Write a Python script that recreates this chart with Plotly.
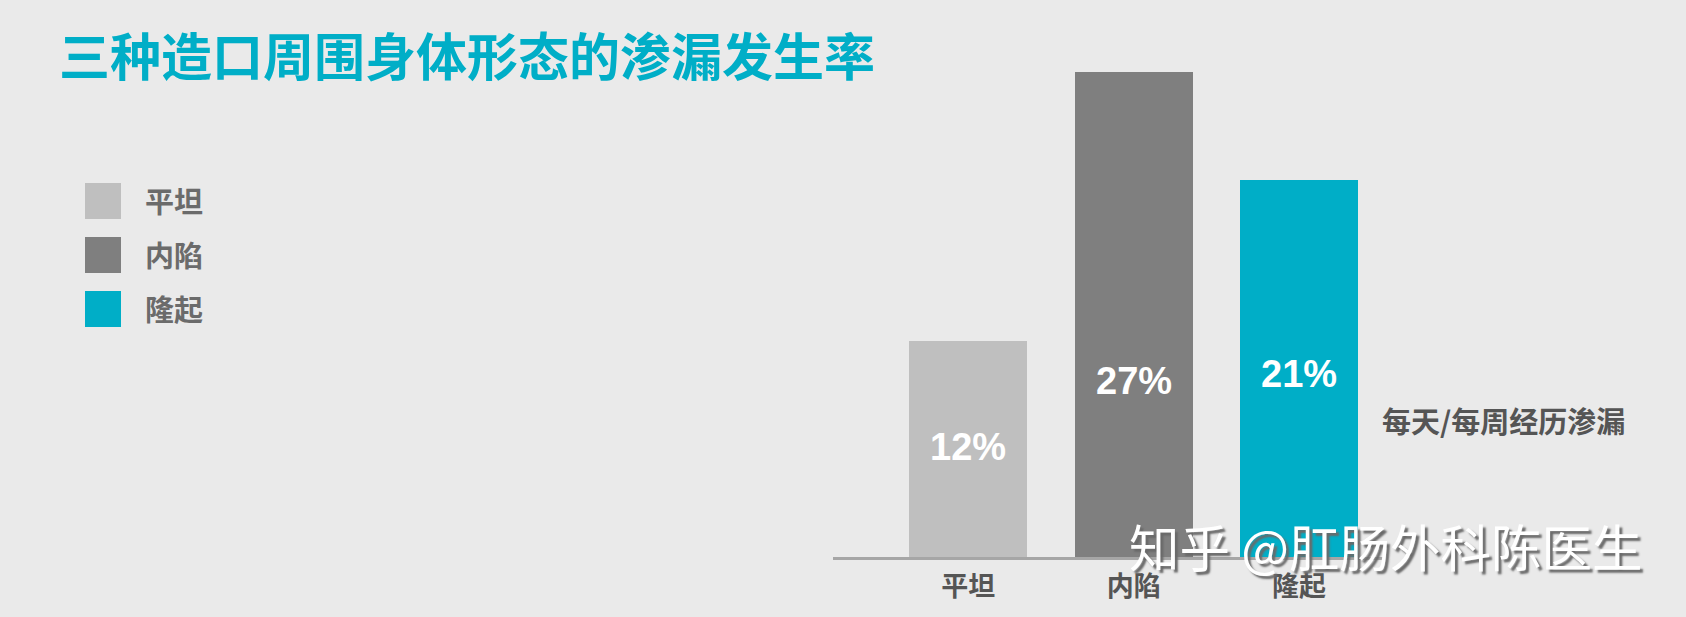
import plotly.graph_objects as go

# ---- data ----
categories = ["平坦", "内陷", "隆起"]
values = [12, 27, 21]
value_labels = ["12%", "27%", "21%"]
colors = ["#bfbfbf", "#7f7f7f", "#00aec7"]
title_text = "三种造口周围身体形态的渗漏发生率"
side_note = "每天/每周经历渗漏"
watermark = "知乎 @肛肠外科陈医生"

# ---- layout geometry (pixels) ----
W, H = 1686, 617
L, R, T, B = 833, 301, 54, 60
PW = W - L - R
PH = H - T - B


def px(xp):
    return (xp - L) / PW


def py(yp):
    return (H - B - yp) / PH


CJK = "Noto Sans CJK SC"
TEAL = "#00aec7"
BG = "#eaeaea"

# vertical placement of the in-bar percentage labels (data units)
label_y = [6.12, 9.79, 10.18]

fig = go.Figure()
fig.add_trace(go.Bar(
    x=categories, y=values,
    marker=dict(color=colors, line=dict(width=0)),
    width=0.714, showlegend=False, hoverinfo="x+y",
))

annotations = []
for c, ly, t in zip(categories, label_y, value_labels):
    annotations.append(dict(
        x=c, y=ly, xref="x", yref="y", text=t, showarrow=False,
        font=dict(family="Liberation Sans", size=38, color="white", weight="bold"),
        xanchor="center", yanchor="middle",
    ))

# title
annotations.append(dict(
    x=px(57), y=py(54), xref="paper", yref="paper", text=title_text,
    showarrow=False, xanchor="left", yanchor="middle",
    font=dict(family=CJK, size=51, color=TEAL, weight="bold"),
))

# legend (squares + labels)
shapes = []
for i, (c, col) in enumerate(zip(categories, colors)):
    top = 183 + 54 * i
    shapes.append(dict(
        type="rect", xref="paper", yref="paper",
        x0=px(85), x1=px(121), y0=py(top + 36), y1=py(top),
        fillcolor=col, line=dict(width=0),
    ))
    annotations.append(dict(
        x=px(143), y=py(top + 17), xref="paper", yref="paper", text=c,
        showarrow=False, xanchor="left", yanchor="middle",
        font=dict(family=CJK, size=29, color="#6b6b6b", weight="bold"),
    ))

# side note
annotations.append(dict(
    x=px(1380), y=py(420), xref="paper", yref="paper", text=side_note,
    showarrow=False, xanchor="left", yanchor="middle",
    font=dict(family=CJK, size=29, color="#555555", weight="bold"),
))

# watermark
annotations.append(dict(
    x=px(1127), y=py(545), xref="paper", yref="paper", text=watermark,
    showarrow=False, xanchor="left", yanchor="middle",
    font=dict(family=CJK, size=50.5, color="white",
              shadow="3px 3px 2px #6a6a6a"),
))

fig.update_layout(
    width=W, height=H,
    margin=dict(l=L, r=R, t=T, b=B, pad=0),
    paper_bgcolor=BG, plot_bgcolor=BG,
    annotations=annotations, shapes=shapes,
    xaxis=dict(
        type="category", range=[-0.819, 2.521], showgrid=False,
        showline=True, linecolor="#a6a6a6", linewidth=3, ticks="",
        ticklabelstandoff=4,
        tickfont=dict(family=CJK, size=27, color="#555555", weight="bold"),
        zeroline=False, fixedrange=True,
    ),
    yaxis=dict(range=[0, 28], visible=False, showgrid=False,
               zeroline=False, fixedrange=True),
    bargap=0,
)

fig.write_html(
    "out.html",
    config={"displayModeBar": False},
    post_script="document.body.style.margin='0';document.body.style.overflow='hidden';",
)
